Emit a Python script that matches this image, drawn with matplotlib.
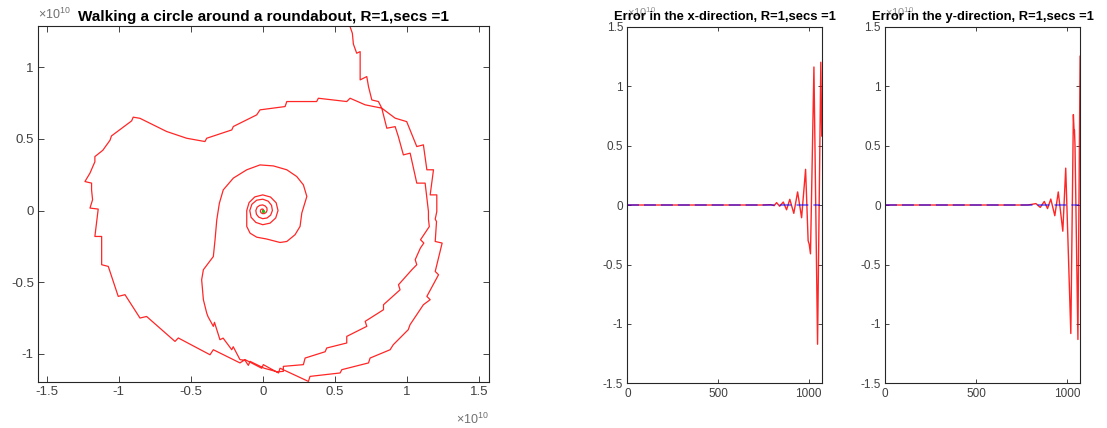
import numpy as np
import matplotlib.pyplot as plt
from matplotlib.ticker import FuncFormatter, MultipleLocator

plt.rcParams['font.family'] = ['Liberation Sans', 'DejaVu Sans']
plt.rcParams['mathtext.fontset'] = 'custom'
plt.rcParams['mathtext.rm'] = 'Liberation Sans'
plt.rcParams['lines.scale_dashes'] = False

# ---------------------------------------------------------------------
# data, positions in units of 1e10
spiral_x = [
    0.000, 0.004, 0.005, 0.004, 0.000, -0.006, -0.012, -0.016, -0.016,
    -0.010, 0.000, 0.012, 0.023,
    0.030, 0.029, 0.018, 0.000, -0.021, -0.039, -0.048, -0.044, -0.027,
    0.000, 0.030, 0.055,
    0.067, 0.061, 0.038, 0.000, -0.042, -0.075, -0.090, -0.081, -0.048,
    0.000, 0.051, 0.090,
    0.106, 0.093, 0.054, 0.000, -0.055, -0.095, -0.111,
    # medium loop
    -0.111, -0.111, -0.088, -0.042, 0.028, 0.120, 0.167, 0.224, 0.259,
    0.271, 0.306, 0.282, 0.236, 0.167, 0.074, -0.019, -0.111, -0.204,
    -0.274, -0.301, -0.319, -0.331, -0.343, -0.412, -0.424, -0.412,
    -0.389, -0.380, -0.343, -0.335, -0.297, -0.275, -0.215, -0.205,
    -0.158, -0.123, -0.100, -0.088, 0.010, 0.100, 0.143, 0.143,
    # inner right path
    0.282, 0.294, 0.433, 0.444, 0.583, 0.583, 0.722, 0.711, 0.838, 0.838,
    0.953, 0.942, 1.035, 1.069, 1.058, 1.094, 1.118, 1.095, 1.156,
    1.150, 1.150, 1.127, 1.069, 1.023, 0.976, 0.941, 0.919, 0.861, 0.826,
    # heart top
    0.711, 0.618, 0.606, 0.583, 0.386, 0.374, 0.167, 0.155, -0.019,
    -0.042, -0.204, -0.215, -0.389, -0.401, -0.528, -0.667, -0.852,
    -0.899, -0.910, -1.050, -1.060, -1.110, -1.165, -1.165, -1.199,
    -1.234, -1.188, -1.188, -1.181,
    # big left loop
    -1.199, -1.142, -1.165, -1.118, -1.118, -1.072, -1.003, -0.956,
    -0.852, -0.806, -0.609, -0.586, -0.366, -0.343, -0.158, -0.123,
    -0.007, 0.004, 0.109, 0.120, 0.317, 0.328,
    # outer right path
    0.537, 0.549, 0.734, 0.745, 0.884, 0.906, 1.010, 1.022, 1.115,
    1.162, 1.139, 1.220, 1.197, 1.245, 1.197, 1.206, 1.197, 1.208,
    1.208, 1.162, 1.185, 1.139, 1.115, 1.069, 0.999, 0.919, 0.826,
    # exit
    0.803, 0.757, 0.734, 0.722, 0.676, 0.676, 0.652, 0.629, 0.622,
    0.606, 0.620, 0.600, 0.612,
]
spiral_y = [
    0.000, 0.000, 0.003, 0.007, 0.010, 0.010, 0.007, 0.000, -0.009,
    -0.017, -0.022, -0.021, -0.014,
    0.000, 0.017, 0.031, 0.039, 0.036, 0.023, 0.000, -0.026, -0.047,
    -0.057, -0.052, -0.032,
    0.000, 0.036, 0.065, 0.079, 0.072, 0.044, 0.000, -0.047, -0.083,
    -0.099, -0.088, -0.052,
    0.000, 0.054, 0.094, 0.109, 0.095, 0.055, 0.000,
    # medium loop
    -0.065, -0.111, -0.158, -0.186, -0.199, -0.223, -0.216, -0.169, -0.111,
    -0.018, 0.098, 0.179, 0.237, 0.284, 0.311, 0.318, 0.284, 0.226,
    0.144, 0.051, -0.065, -0.204, -0.321, -0.413, -0.483, -0.622,
    -0.715, -0.740, -0.808, -0.780, -0.901, -0.890, -0.971, -0.950,
    -1.040, -1.045, -1.080, -1.052, -1.100, -1.125, -1.122, -1.087,
    # inner right path
    -1.075, -1.029, -0.985, -0.959, -0.924, -0.878, -0.808, -0.773, -0.692, -0.657,
    -0.553, -0.518, -0.413, -0.378, -0.343, -0.262, -0.227, -0.204, -0.112,
    -0.060, -0.007, 0.191, 0.191, 0.400, 0.388, 0.516, 0.585, 0.574, 0.714,
    # heart top
    0.737, 0.777, 0.783, 0.760, 0.783, 0.760, 0.760, 0.725, 0.702,
    0.667, 0.586, 0.562, 0.504, 0.481, 0.504, 0.551, 0.643,
    0.651, 0.625, 0.520, 0.490, 0.420, 0.376, 0.340, 0.261,
    0.202, 0.191, 0.144, 0.075,
    # big left loop
    0.017, 0.010, -0.181, -0.181, -0.378, -0.390, -0.599, -0.587,
    -0.750, -0.739, -0.913, -0.889, -1.006, -0.971, -1.063, -1.040,
    -1.100, -1.075, -1.133, -1.100, -1.192, -1.157,
    # outer right path
    -1.133, -1.110, -1.063, -1.029, -0.971, -0.936, -0.831, -0.797, -0.657,
    -0.622, -0.599, -0.448, -0.425, -0.227, -0.216, -0.077, -0.060, -0.007,
    0.109, 0.109, 0.284, 0.284, 0.458, 0.446, 0.620, 0.644, 0.714,
    # exit
    0.760, 0.771, 0.864, 0.934, 0.911, 1.108, 1.097, 1.161, 1.236,
    1.282, 1.300, 1.320, 1.400,
]

# error in x (units of 1e10) vs step
err_x_t = [0, 750, 790, 810, 823, 840, 860, 878, 896, 918, 939, 961,
           983, 997, 1003, 1010, 1029, 1049, 1067, 1072]
err_x_v = [0, 0, 0.003, -0.005, 0.02, -0.01, 0.025, -0.04, 0.048, -0.07,
           0.11, -0.107, 0.30, -0.30, -0.33, -0.41, 1.16, -1.17, 1.20, 0.58]
# error in y
err_y_t = [0, 783, 805, 829, 853, 875, 893, 911, 933, 952, 977, 993,
           1021, 1035, 1039, 1041, 1044, 1060, 1072]
err_y_v = [0, 0, 0.005, 0.012, -0.02, 0.03, -0.03, 0.05, -0.09, 0.11,
           -0.22, 0.31, -1.08, 0.76, 0.62, 0.63, 0.50, -1.13, 1.25]
zero_t = [0, 1065]
zero_v = [0, 0]

T_MAX = 1072

fmt = FuncFormatter(lambda v, p: f"{v + 0:g}")


def matlab_axes(ax, fs, tick_len):
    for s in ax.spines.values():
        s.set_color('#262626')
        s.set_linewidth(0.8)
    ax.tick_params(direction='in', top=True, right=True, length=tick_len,
                   width=0.6, colors='#262626', labelcolor='#404040',
                   labelsize=fs, pad=3)
    ax.xaxis.set_major_formatter(fmt)
    ax.yaxis.set_major_formatter(fmt)


fig = plt.figure(figsize=(11.07, 4.28), dpi=100)

# left: trajectory
ax = fig.add_axes([0.0343, 0.1075, 0.4074, 0.8318])
ax.plot(spiral_x, spiral_y, color='#ff0000', lw=0.9, alpha=0.85)
ax.plot([0], [0], 'o', color='#22bb22', ms=2.5, mec='none')
ax.set_xlim(-1.56, 1.57)
ax.set_ylim(-1.196, 1.287)
ax.xaxis.set_major_locator(MultipleLocator(0.5))
ax.yaxis.set_major_locator(MultipleLocator(0.5))
matlab_axes(ax, 9.5, 4)
ax.set_title("Walking a circle around a roundabout, R=1,secs =1",
             fontsize=11, fontweight='bold', pad=3.5)
ax.text(0, 1.012, r'$\times10^{10}$', transform=ax.transAxes, ha='left',
        va='bottom', color='#707070', fontsize=9)
ax.text(1, -0.083, r'$\times10^{10}$', transform=ax.transAxes, ha='right',
        va='top', color='#707070', fontsize=9)

# right: errors
for pos, tt, vv, lab in [([0.5667, 0.104, 0.1756, 0.834], err_x_t, err_x_v, 'x'),
                         ([0.7995, 0.104, 0.1762, 0.834], err_y_t, err_y_v, 'y')]:
    ax = fig.add_axes(pos)
    ax.plot(tt, vv, color='#ff0000', lw=1.0, alpha=0.85)
    ax.plot(zero_t, zero_v, color='#0000ff', lw=1.3, alpha=0.55,
            dashes=(8.6, 3.6))
    ax.set_xlim(0, T_MAX)
    ax.set_ylim(-1.5, 1.5)
    ax.set_xticks([0, 500, 1000])
    ax.yaxis.set_major_locator(MultipleLocator(0.5))
    matlab_axes(ax, 8.5, 3)
    ax.set_title(f"Error in the {lab}-direction, R=1,secs =1",
                 fontsize=9.4, fontweight='bold', pad=5)
    ax.text(0.0, 1.02, r'$\times10^{10}$', transform=ax.transAxes,
            ha='left', va='bottom', color='#909090', fontsize=8, zorder=0)

fig.savefig("out.png", dpi=100)
